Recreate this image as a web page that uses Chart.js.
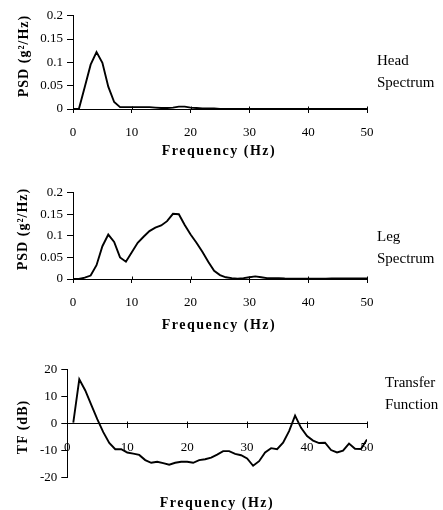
<!DOCTYPE html>
<html><head><meta charset="utf-8">
<script src="https://cdn.jsdelivr.net/npm/chart.js@4.4.0/dist/chart.umd.min.js"></script>
<style>
body{margin:0;background:#fff;width:443px;height:510px;position:relative;overflow:hidden;font-family:"Liberation Serif",serif;color:#000;}
canvas{position:absolute;left:0;}
.side{position:absolute;font-size:15px;line-height:22px;}
.xt{position:absolute;font-weight:bold;font-size:14px;letter-spacing:1.5px;transform:translate(-50%,-50%);white-space:nowrap;}
.yt{position:absolute;font-weight:bold;font-size:14px;letter-spacing:1px;transform:translate(-50%,-50%) rotate(-90deg);white-space:nowrap;}
</style></head><body>
<canvas id="c1" width="443" height="170" style="top:0px"></canvas>
<canvas id="c2" width="443" height="170" style="top:170px"></canvas>
<canvas id="c3" width="443" height="170" style="top:340px"></canvas>

<div class="side" style="left:377px;top:49px">Head<br>Spectrum</div>
<div class="side" style="left:377px;top:225px">Leg<br>Spectrum</div>
<div class="side" style="left:385px;top:371px">Transfer<br>Function</div>

<div class="xt" style="left:219px;top:151px">Frequency (Hz)</div>
<div class="xt" style="left:219px;top:325px">Frequency (Hz)</div>
<div class="xt" style="left:217px;top:503px">Frequency (Hz)</div>

<div class="yt" style="left:24px;top:56px">PSD (g²/Hz)</div>
<div class="yt" style="left:23px;top:229px">PSD (g²/Hz)</div>
<div class="yt" style="left:23px;top:427px">TF (dB)</div>

<script>
// ---- data ----
const freq = [0,1,2,3,4,5,6,7,8,9,10,11,12,13,14,15,16,17,18,19,20,21,22,23,24,25,26,27,28,29,30,31,32,33,34,35,36,37,38,39,40,41,42,43,44,45,46,47,48,49,50];
const headPSD = [0,0,0.047,0.095,0.122,0.099,0.048,0.015,0.004,0.004,0.004,0.004,0.004,0.004,0.003,0.002,0.002,0.003,0.005,0.005,0.003,0.002,0.001,0.001,0.001,0,0,0,0,0,0,0,0,0,0,0,0,0,0,0,0,0,0,0,0,0,0,0,0,0,0];
const legPSD = [0,0,0.003,0.008,0.032,0.076,0.103,0.086,0.050,0.040,0.062,0.084,0.098,0.111,0.119,0.124,0.134,0.151,0.150,0.125,0.103,0.084,0.063,0.040,0.019,0.009,0.004,0.002,0.0005,0.002,0.004,0.006,0.004,0.002,0.002,0.002,0.001,0.0005,0.0005,0.0005,0.0005,0.0005,0.0005,0.0005,0.001,0.001,0.001,0.001,0.001,0.001,0.001];
const tfFreq = [1,2,3,4,5,6,7,8,9,10,11,12,13,14,15,16,17,18,19,20,21,22,23,24,25,26,27,28,29,30,31,32,33,34,35,36,37,38,39,40,41,42,43,44,45,46,47,48,49,50];
const tfDB = [0.3,16.3,12.2,6.9,1.6,-3.2,-7.2,-9.5,-9.5,-10.7,-11.1,-11.6,-13.5,-14.5,-14.1,-14.6,-15.2,-14.5,-14.1,-14.1,-14.5,-13.5,-13.2,-12.6,-11.5,-10.2,-10.2,-11.2,-11.7,-12.9,-15.6,-13.9,-10.7,-9.1,-9.5,-7.1,-2.8,2.9,-1.6,-4.6,-6.3,-7.2,-7.1,-9.8,-10.7,-10.0,-7.4,-9.3,-9.4,-5.9];
const freqTicks = ['0','10','20','30','40','50'];
const psdTicks = ['0','0.05','0.1','0.15','0.2'];
const tfTicks = ['-20','-10','0','10','20'];

const tickFont = {family:'Liberation Serif', size:13};
const lbl = (arr) => (v) => { const t = arr.find(s => Math.abs(Number(s) - v) < 1e-6); return t === undefined ? '' : t; };

const crossTicks = {
  id:'crossTicks',
  afterDraw(chart){
    const xs = chart.scales.x, ys = chart.scales.y, ctx = chart.ctx;
    const y0 = Math.round(ys.getPixelForValue(0)) + 0.5;
    ctx.save(); ctx.strokeStyle = '#000'; ctx.lineWidth = 1;
    xs.ticks.forEach(t => {
      const x = Math.round(xs.getPixelForValue(t.value)) + 0.5;
      ctx.beginPath(); ctx.moveTo(x, y0 - 3); ctx.lineTo(x, y0); ctx.stroke();
    });
    ctx.restore();
  }
};

function makeChart(id, xs, ys, opts){
  return new Chart(document.getElementById(id), {
    type:'line',
    data:{datasets:[{data: xs.map((x,i)=>({x:x, y:ys[i]})), borderColor:'#000', borderWidth:1.9, pointRadius:0, tension:0, fill:false}]},
    options:{
      responsive:false, animation:false, devicePixelRatio:1,
      layout:{padding:opts.padding},
      plugins:{legend:{display:false}, tooltip:{enabled:false}},
      scales:{
        x:{type:'linear', min:0, max:50, position: opts.xPos,
           ticks:{stepSize:10, font:tickFont, color:'#000', padding:12, maxRotation:0, callback: lbl(freqTicks)},
           grid:{drawOnChartArea:false, tickLength:4, color:'#000'},
           border:{color:'#000', width:1},
           afterFit: opts.xFit},
        y:{type:'linear', min:opts.ymin, max:opts.ymax,
           ticks:{stepSize:opts.ystep, font:tickFont, color:'#000', padding:4, callback: lbl(opts.yTicks)},
           grid:{drawOnChartArea:false, tickLength:6, color:'#000'},
           border:{color:'#000', width:1},
           afterFit: (s)=>{ s.width = opts.yWidth; }}
      }
    },
    plugins:[crossTicks]
  });
}

makeChart('c1', freq, headPSD, {padding:{top:15.7, right:76, left:0, bottom:0}, xPos:'bottom', xFit:(s)=>{s.height=61;}, ymin:0, ymax:0.2, ystep:0.05, yTicks:psdTicks, yWidth:73});
makeChart('c2', freq, legPSD, {padding:{top:22.7, right:76, left:0, bottom:0}, xPos:'bottom', xFit:(s)=>{s.height=61;}, ymin:0, ymax:0.2, ystep:0.05, yTicks:psdTicks, yWidth:73});
makeChart('c3', tfFreq, tfDB, {padding:{top:29.3, right:76, left:0, bottom:32.3}, xPos:{y:0}, xFit:undefined, ymin:-20, ymax:20, ystep:10, yTicks:tfTicks, yWidth:67.3});
</script>
</body></html>
